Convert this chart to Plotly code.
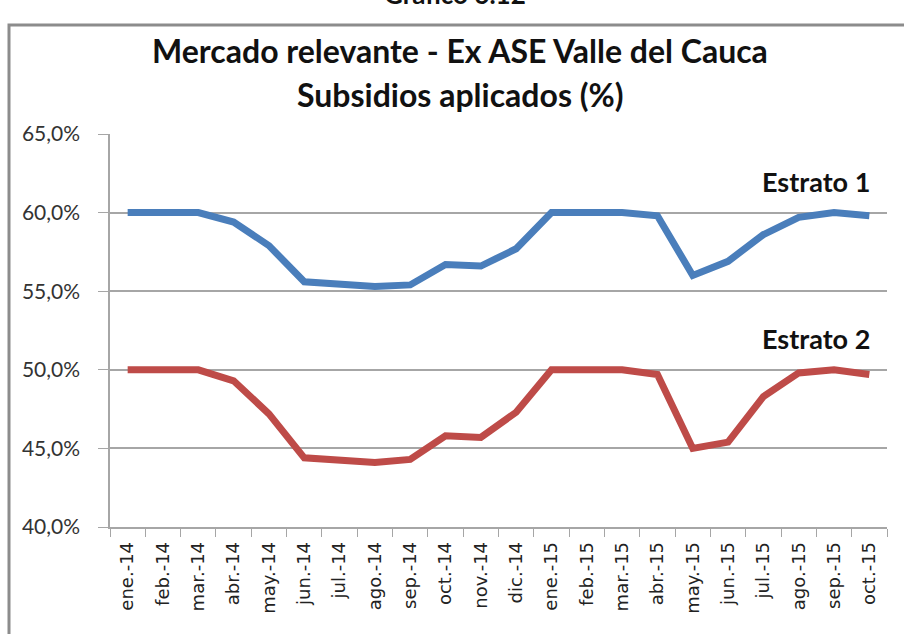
import plotly.graph_objects as go

months = ["ene.-14", "feb.-14", "mar.-14", "abr.-14", "may.-14", "jun.-14", "jul.-14",
          "ago.-14", "sep.-14", "oct.-14", "nov.-14", "dic.-14", "ene.-15", "feb.-15",
          "mar.-15", "abr.-15", "may.-15", "jun.-15", "jul.-15", "ago.-15", "sep.-15", "oct.-15"]
estrato1 = [60.0, 60.0, 60.0, 59.4, 57.9, 55.6, 55.5, 55.3, 55.4, 56.7, 56.6, 57.7,
            60.0, 60.0, 60.0, 59.8, 56.0, 56.9, 58.6, 59.7, 60.0, 59.8]
estrato2 = [50.0, 50.0, 50.0, 49.3, 47.2, 44.4, 44.3, 44.1, 44.3, 45.8, 45.7, 47.3,
            50.0, 50.0, 50.0, 49.7, 45.0, 45.4, 48.3, 49.8, 50.0, 49.7]
y_ticks = [40, 45, 50, 55, 60, 65]
y_tick_labels = ["40,0%", "45,0%", "50,0%", "55,0%", "60,0%", "65,0%"]

fig = go.Figure()
fig.add_trace(go.Scatter(x=months, y=estrato1, mode="lines", name="Estrato 1",
                         line=dict(color="#4A7EBB", width=7)))
fig.add_trace(go.Scatter(x=months, y=estrato2, mode="lines", name="Estrato 2",
                         line=dict(color="#BE4B48", width=7)))

fig.update_layout(
    width=904, height=634,
    margin=dict(l=110, r=17, t=134, b=107, autoexpand=False),
    paper_bgcolor="white", plot_bgcolor="white",
    showlegend=False,
    font=dict(family="Lato, Open Sans, sans-serif", color="#333333"),
)
fig.update_yaxes(range=[40, 65], tickvals=y_ticks, ticktext=y_tick_labels,
                 showgrid=True, gridcolor="#A6A6A6", gridwidth=1.5,
                 showline=True, linecolor="#A6A6A6", linewidth=1.5,
                 ticks="outside", ticklen=10, tickcolor="#A6A6A6",
                 ticklabelstandoff=14,
                 tickfont=dict(size=21, color="#333333", family="Lato, sans-serif"),
                 zeroline=False, automargin=False)
fig.update_xaxes(type="category", tickangle=-90, tickson="boundaries",
                 ticks="outside", ticklen=8, tickcolor="#A6A6A6",
                 ticklabelstandoff=6,
                 showline=True, linecolor="#A6A6A6", linewidth=1.5,
                 showgrid=False,
                 tickfont=dict(size=18, color="#222222", family="DejaVu Sans, sans-serif"),
                 range=[-0.5, len(months) - 0.5], automargin=False)

title_font = dict(size=32, color="#111111", family="Lato, sans-serif")
fig.add_annotation(text="<b>Mercado relevante - Ex ASE Valle del Cauca</b>",
                   xref="paper", yref="paper", x=(460 - 110) / 777, y=(527 - 50) / 393,
                   xanchor="center", yanchor="middle", showarrow=False, font=title_font)
fig.add_annotation(text="<b>Subsidios aplicados (%)</b>",
                   xref="paper", yref="paper", x=(460 - 110) / 777, y=(527 - 95) / 393,
                   xanchor="center", yanchor="middle", showarrow=False, font=title_font)
fig.add_annotation(text="<b>Estrato 1</b>", xref="paper", yref="paper",
                   x=(816 - 110) / 777, y=(527 - 181) / 393, xanchor="center", yanchor="middle",
                   showarrow=False, font=dict(size=27, color="#111111"))
fig.add_annotation(text="<b>Estrato 2</b>", xref="paper", yref="paper",
                   x=(816 - 110) / 777, y=(527 - 338) / 393, xanchor="center", yanchor="middle",
                   showarrow=False, font=dict(size=27, color="#111111"))
fig.add_annotation(text="<b>Gráfico 6.12</b>", xref="paper", yref="paper",
                   x=(455 - 110) / 777, y=(527 + 6) / 393, xanchor="center", yanchor="middle",
                   showarrow=False, font=dict(size=26, color="#111111"))
fig.add_shape(type="rect", xref="paper", yref="paper",
              x0=(9 - 110) / 777, x1=1.05, y0=-0.35, y1=(527 - 25) / 393,
              line=dict(color="#8C8C8C", width=3), fillcolor="rgba(0,0,0,0)")

fig.write_html("out.html", config={"displayModeBar": False},
               post_script="document.body.style.margin='0';")
